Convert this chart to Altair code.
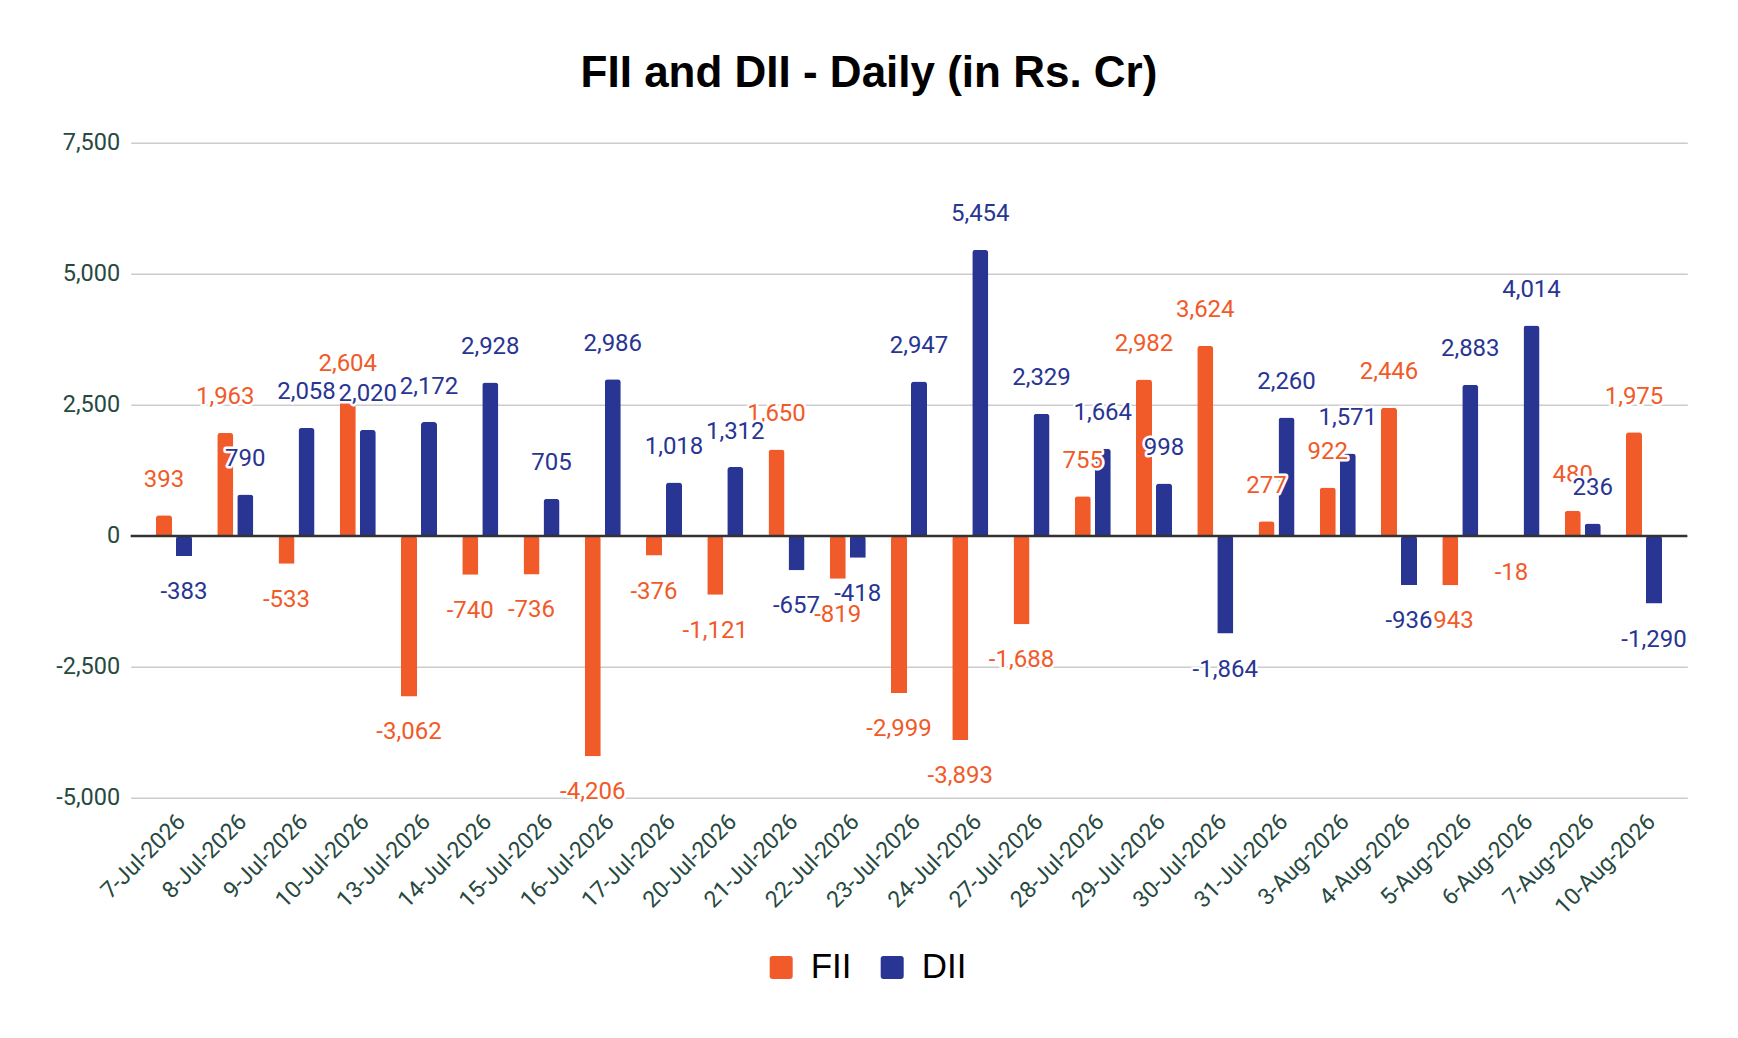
import altair as alt
import pandas as pd

dates = ["7-Jul-2026", "8-Jul-2026", "9-Jul-2026", "10-Jul-2026", "13-Jul-2026",
         "14-Jul-2026", "15-Jul-2026", "16-Jul-2026", "17-Jul-2026", "20-Jul-2026",
         "21-Jul-2026", "22-Jul-2026", "23-Jul-2026", "24-Jul-2026", "27-Jul-2026",
         "28-Jul-2026", "29-Jul-2026", "30-Jul-2026", "31-Jul-2026", "3-Aug-2026",
         "4-Aug-2026", "5-Aug-2026", "6-Aug-2026", "7-Aug-2026", "10-Aug-2026"]
fii = [393, 1963, -533, 2604, -3062, -740, -736, -4206, -376, -1121, 1650, -819,
       -2999, -3893, -1688, 755, 2982, 3624, 277, 922, 2446, -943, -18, 480, 1975]
dii = [-383, 790, 2058, 2020, 2172, 2928, 705, 2986, 1018, 1312, -657, -418,
       2947, 5454, 2329, 1664, 998, -1864, 2260, 1571, -936, 2883, 4014, 236, -1290]
series = ["FII", "DII"]
colors = ["#F15A29", "#283593"]
y_ticks = [-5000, -2500, 0, 2500, 5000, 7500]

rows = []
for d, f, v in zip(dates, fii, dii):
    rows.append({"date": d, "series": "FII", "value": f})
    rows.append({"date": d, "series": "DII", "value": v})
df = pd.DataFrame(rows)

axis_color = "#27493f"

x_enc = alt.X("date:N", sort=dates,
              scale=alt.Scale(paddingInner=0.412, paddingOuter=0.413),
              axis=alt.Axis(title=None, labelAngle=-45, labelAlign="right",
                            labelBaseline="top", labelFont="Roboto",
                            labelFontSize=23, labelColor=axis_color,
                            ticks=False, domain=False, grid=False,
                            labelPadding=12))
xo_enc = alt.XOffset("series:N", sort=series,
                     scale=alt.Scale(domain=series, paddingInner=0.2, paddingOuter=0))
y_enc = alt.Y("value:Q",
              scale=alt.Scale(domain=[-5000, 7500], nice=False, zero=True),
              axis=alt.Axis(title=None, values=y_ticks, format=",d",
                            labelExpr="replace(datum.label, '\u2212', '-')",
                            domain=False, ticks=False, labelPadding=11,
                            labelFont="Roboto", labelFontSize=23.5,
                            labelColor=axis_color, gridColor="#cccccc",
                            gridWidth=1.5))

rounded_square = ("M -0.75,-1 L 0.75,-1 Q 1,-1 1,-0.75 L 1,0.75 Q 1,1 0.75,1 "
                  "L -0.75,1 Q -1,1 -1,0.75 L -1,-0.75 Q -1,-1 -0.75,-1 Z")

color_scale = alt.Scale(domain=series, range=colors)

base = alt.Chart(df).transform_calculate(
    label="replace(format(datum.value, ',d'), '\u2212', '-')"
)

bars = base.mark_bar(cornerRadiusEnd=3).encode(
    x=x_enc, xOffset=xo_enc, y=y_enc,
    color=alt.Color("series:N", sort=series, scale=color_scale,
                    legend=alt.Legend(title=None, orient="none",
                                      legendX=633, legendY=807,
                                      direction="horizontal",
                                      symbolType=rounded_square,
                                      symbolSize=529, symbolStrokeWidth=0,
                                      labelFont="Liberation Sans",
                                      labelFontSize=35, labelColor="black",
                                      labelOffset=12, columnPadding=23,
                                      padding=0))
)

zero_rule = alt.Chart(pd.DataFrame({"zero": [0]})).mark_rule(
    color="#333333", strokeWidth=2.5
).encode(y=alt.Y("zero:Q"))

layers = [bars, zero_rule]
for s, c in zip(series, colors):
    for cond, dy in (("datum.value >= 0", -28.5), ("datum.value < 0", 43)):
        common = dict(x=x_enc, xOffset=xo_enc, y=y_enc, text=alt.Text("label:N"))
        sub = base.transform_filter(f"datum.series == '{s}'").transform_filter(cond)
        halo = sub.mark_text(
            font="Roboto", fontSize=24, baseline="alphabetic", align="center",
            dy=dy, fill="white", stroke="white", strokeWidth=5,
            strokeJoin="round").encode(**common)
        txt = sub.mark_text(
            font="Roboto", fontSize=24, baseline="alphabetic", align="center",
            dy=dy, color=c).encode(**common)
        layers += [halo, txt]

chart = alt.layer(*layers).properties(
    width=1556.6, height=655.3,
    autosize=alt.AutoSizeParams(type="none"),
    padding={"left": 122.7, "top": 134.7, "right": 35, "bottom": 220},
    title=alt.TitleParams(text="FII and DII - Daily (in Rs. Cr)",
                          font="Liberation Sans", fontSize=44,
                          fontWeight="bold", color="black",
                          anchor="middle", frame="group", dx=-40,
                          baseline="alphabetic", offset=0),
    background="white",
).configure_view(stroke=None)

chart.save("out.html", embed_options={"renderer": "svg", "actions": False})
